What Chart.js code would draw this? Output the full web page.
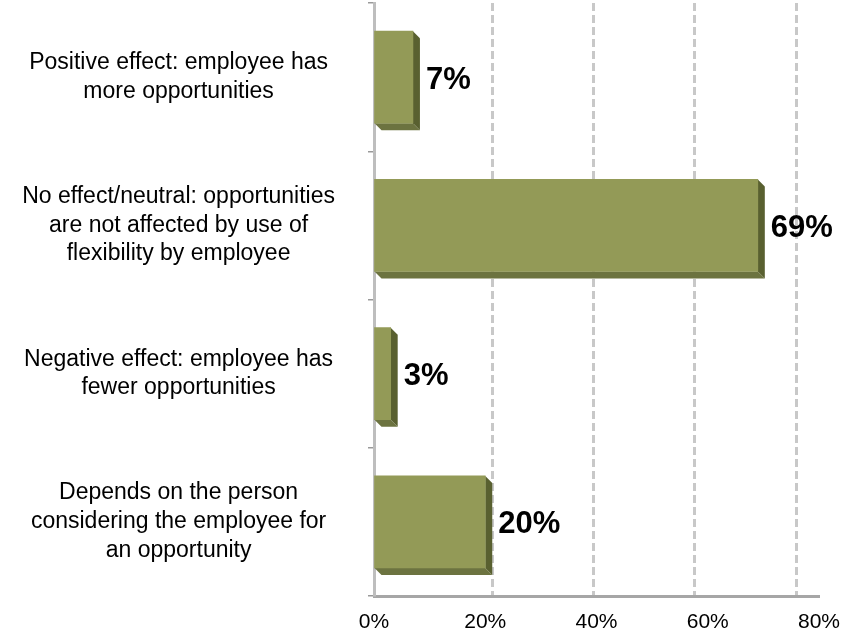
<!DOCTYPE html>
<html>
<head>
<meta charset="utf-8">
<script src="https://cdn.jsdelivr.net/npm/chart.js@4"></script>
<style>
  html, body { margin: 0; padding: 0; background: #ffffff; }
  #wrap { width: 841px; height: 636px; position: relative; }
</style>
</head>
<body>
<div id="wrap"><canvas id="c"></canvas></div>
<script>
// Answers to: how does using flexibility affect an employee's opportunities?
const categories = [
  ['Positive effect: employee has', 'more opportunities'],
  ['No effect/neutral: opportunities', 'are not affected by use of', 'flexibility by employee'],
  ['Negative effect: employee has', 'fewer opportunities'],
  ['Depends on the person', 'considering the employee for', 'an opportunity']
];
const shares = [7, 69, 3, 20];          // percent of respondents
const tickValues = [0, 20, 40, 60, 80]; // percent axis ticks

const FONT = '"Liberation Sans", Arial, sans-serif';
const DEPTH = 7;

// Extruded side and bottom faces behind each bar, for a 3-D look
const barDepth = {
  id: 'barDepth',
  beforeDatasetsDraw(chart) {
    const ctx = chart.ctx;
    chart.getDatasetMeta(0).data.forEach(bar => {
      const { x, y, base, height } = bar.getProps(['x', 'y', 'base', 'height'], true);
      const top = y - height / 2, bottom = y + height / 2;
      ctx.save();
      ctx.fillStyle = '#596030';
      ctx.beginPath();
      ctx.moveTo(x, top);
      ctx.lineTo(x + DEPTH, top + DEPTH);
      ctx.lineTo(x + DEPTH, bottom + DEPTH);
      ctx.lineTo(x, bottom);
      ctx.closePath();
      ctx.fill();
      ctx.fillStyle = '#6C7340';
      ctx.beginPath();
      ctx.moveTo(base, bottom);
      ctx.lineTo(x, bottom);
      ctx.lineTo(x + DEPTH, bottom + DEPTH);
      ctx.lineTo(base + DEPTH, bottom + DEPTH);
      ctx.closePath();
      ctx.fill();
      ctx.restore();
    });
  }
};

// Bold value labels just past the end of each bar
const valueLabels = {
  id: 'valueLabels',
  afterDatasetsDraw(chart) {
    const ctx = chart.ctx;
    const ds = chart.data.datasets[0];
    ctx.save();
    ctx.font = 'bold 31px ' + FONT;
    ctx.fillStyle = '#000000';
    ctx.textAlign = 'left';
    ctx.textBaseline = 'middle';
    chart.getDatasetMeta(0).data.forEach((bar, i) => {
      const { x, y } = bar.getProps(['x', 'y'], true);
      ctx.fillText(ds.data[i] + '%', x + DEPTH + 6, y + 3);
    });
    ctx.restore();
  }
};

new Chart(document.getElementById('c'), {
  type: 'bar',
  data: {
    labels: categories,
    datasets: [{
      data: shares,
      xAxisID: 'x',
      backgroundColor: '#939A57',
      borderWidth: 0,
      barThickness: 92
    }]
  },
  plugins: [barDepth, valueLabels],
  options: {
    indexAxis: 'y',
    responsive: true,
    maintainAspectRatio: false,
    animation: false,
    layout: { padding: { left: 0, right: 22, top: 3, bottom: 2 } },
    plugins: { legend: { display: false }, tooltip: { enabled: false } },
    scales: {
      x: {
        axis: 'x',
        position: 'bottom',
        min: 0,
        max: 80,
        afterBuildTicks: s => { s.ticks = tickValues.map(v => ({ value: v })); },
        afterFit: s => { s.height = 38; s.paddingLeft = 0; s.paddingRight = 0; },
        ticks: {
          callback: v => v + '%',
          font: { family: FONT, size: 21 },
          color: '#000000',
          padding: 14,
          maxRotation: 0
        },
        grid: { drawOnChartArea: false, drawTicks: false },
        border: { color: '#A6A6A6', width: 3 }
      },
      // back-wall grid, set slightly deeper than the front axis
      xBack: {
        axis: 'x',
        type: 'linear',
        position: 'bottom',
        min: -3.4,
        max: 84.5,
        afterBuildTicks: s => { s.ticks = tickValues.filter(v => v > 0).map(v => ({ value: v })); },
        afterFit: s => { s.height = 0; s.paddingLeft = 0; s.paddingRight = 0; },
        ticks: { display: false },
        grid: { drawTicks: false, color: '#C8C8C8', lineWidth: 3 },
        border: { display: false, dash: [8, 4] }
      },
      y: {
        afterFit: s => { s.width = 374; s.paddingTop = 0; s.paddingBottom = 0; },
        ticks: {
          font: { family: FONT, size: 23, lineHeight: 1.25 },
          color: '#000000',
          crossAlign: 'center',
          padding: 33
        },
        grid: {
          offset: true,
          drawOnChartArea: false,
          drawTicks: true,
          tickLength: 6,
          color: '#9A9A9A',
          lineWidth: 1.5
        },
        border: { color: '#BEBEBE', width: 3 }
      }
    }
  }
});
</script>
</body>
</html>
